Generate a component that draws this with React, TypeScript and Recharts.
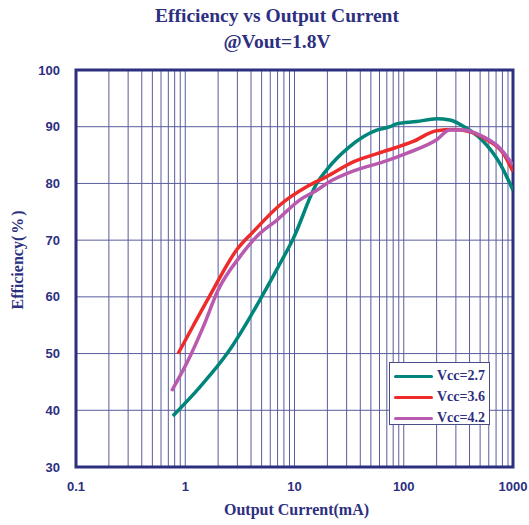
import { LineChart, Line, XAxis, YAxis, CartesianGrid, ReferenceArea } from 'recharts'

const NAVY = '#2d2f7f'

// Vcc = 2.7 V
const currentVcc27 = [0.77, 1.36, 2.48, 3.78, 5.0, 7.1, 9.75, 16, 19.7, 32, 56.5, 75, 86, 131, 200, 264, 377, 517, 760, 1000]
const effVcc27 = [39.0, 44.1, 50.3, 55.9, 60.0, 65.3, 70.3, 80.0, 82.4, 86.5, 89.4, 90.0, 90.5, 90.9, 91.4, 91.2, 89.7, 87.7, 83.5, 78.8]

// Vcc = 3.6 V
const currentVcc36 = [0.86, 1.19, 1.69, 2.96, 4.2, 7.36, 12.9, 19.7, 34.5, 65, 122, 200, 284, 405, 575, 813, 1000]
const effVcc36 = [50.0, 55.0, 60.3, 68.3, 71.5, 76.2, 79.4, 81.2, 83.8, 85.6, 87.4, 89.3, 89.5, 89.1, 87.7, 85.3, 82.1]

// Vcc = 4.2 V
const currentVcc42 = [0.75, 1.1, 1.46, 2.0, 3.17, 4.83, 6.87, 11.2, 16, 19.7, 37, 65, 106, 200, 264, 351, 500, 760, 1000]
const effVcc42 = [43.4, 49.4, 54.7, 61.2, 67.1, 71.2, 73.5, 77.1, 78.8, 80.0, 82.4, 83.8, 85.3, 87.7, 89.4, 89.4, 88.5, 86.2, 83.2]

const xTicks = [
  0.1, 0.2, 0.3, 0.4, 0.5, 0.6, 0.7, 0.8, 0.9,
  1, 2, 3, 4, 5, 6, 7, 8, 9,
  10, 20, 30, 40, 50, 60, 70, 80, 90,
  100, 200, 300, 400, 500, 600, 700, 800, 900,
  1000,
]
const xLabels = [0.1, 1, 10, 100, 1000]
const yTicks = [30, 40, 50, 60, 70, 80, 90, 100]

const toPoints = (xs: number[], ys: number[]) => xs.map((x, i) => ({ x, y: ys[i] }))

const series = [
  { name: 'Vcc=2.7', color: '#00857a', data: toPoints(currentVcc27, effVcc27) },
  { name: 'Vcc=3.6', color: '#ee2b2b', data: toPoints(currentVcc36, effVcc36) },
  { name: 'Vcc=4.2', color: '#b95aae', data: toPoints(currentVcc42, effVcc42) },
]

const tickStyle = { fill: NAVY, fontFamily: '"Liberation Sans", Arial, sans-serif', fontWeight: 700, fontSize: 13 }
const serif = '"Liberation Serif", "Times New Roman", serif'

export default function App() {
  return (
    <div style={{ position: 'absolute', left: 0, top: 0, width: 529, height: 525, background: '#fff' }}>
      <div style={{ position: 'absolute', left: 0, width: 554, top: 3, textAlign: 'center', fontFamily: serif, fontWeight: 700, fontSize: 19.5, color: NAVY, lineHeight: '26px' }}>
        Efficiency vs Output Current
        <br />
        @Vout=1.8V
      </div>
      <LineChart width={529} height={525} data={series[0].data} margin={{ top: 70, right: 16, bottom: 0, left: 0 }}>
        <CartesianGrid stroke="#5a5c9c" strokeWidth={1} />
        <XAxis
          dataKey="x"
          type="number"
          scale="log"
          domain={[0.1, 1000]}
          ticks={xTicks}
          interval={0}
          allowDataOverflow
          tickFormatter={(v: number) => (xLabels.includes(v) ? String(v) : '')}
          tick={tickStyle}
          tickLine={false}
          tickSize={0}
          tickMargin={15}
          axisLine={false}
          height={58}
        />
        <YAxis
          type="number"
          domain={[30, 100]}
          ticks={yTicks}
          interval={0}
          tick={tickStyle}
          tickLine={false}
          tickSize={0}
          tickMargin={16}
          axisLine={false}
          width={76}
        />
        {series.map((s) => (
          <Line
            key={s.name}
            data={s.data}
            dataKey="y"
            name={s.name}
            type="monotone"
            stroke={s.color}
            strokeWidth={3.5}
            dot={false}
            isAnimationActive={false}
          />
        ))}
        <ReferenceArea x1={0.1} x2={1000} y1={30} y2={100} fill="none" stroke={NAVY} strokeWidth={3} ifOverflow="visible" />
      </LineChart>
      <div style={{ position: 'absolute', left: 0, width: 593, top: 501, textAlign: 'center', fontFamily: serif, fontWeight: 700, fontSize: 16, color: NAVY }}>
        Output Current(mA)
      </div>
      <div style={{ position: 'absolute', left: 18, top: 260, transform: 'translate(-50%, -50%) rotate(-90deg)', whiteSpace: 'nowrap', fontFamily: serif, fontWeight: 700, fontSize: 16, color: NAVY }}>
        Efficiency(<span style={{ letterSpacing: 2, marginLeft: 2 }}>%</span>)
      </div>
      <div style={{ position: 'absolute', left: 389, top: 362, width: 99, height: 61, border: '1px solid #4a4c8a', background: '#fff', boxSizing: 'content-box' }}>
        {series.map((s, i) => (
          <div key={s.name} style={{ position: 'absolute', left: 4, top: 4 + i * 21, height: 18, display: 'flex', alignItems: 'center' }}>
            <div style={{ width: 39, height: 3, background: s.color, borderRadius: 2 }} />
            <span style={{ marginLeft: 4, fontFamily: serif, fontWeight: 700, fontSize: 14, color: NAVY }}>{s.name}</span>
          </div>
        ))}
      </div>
    </div>
  )
}
